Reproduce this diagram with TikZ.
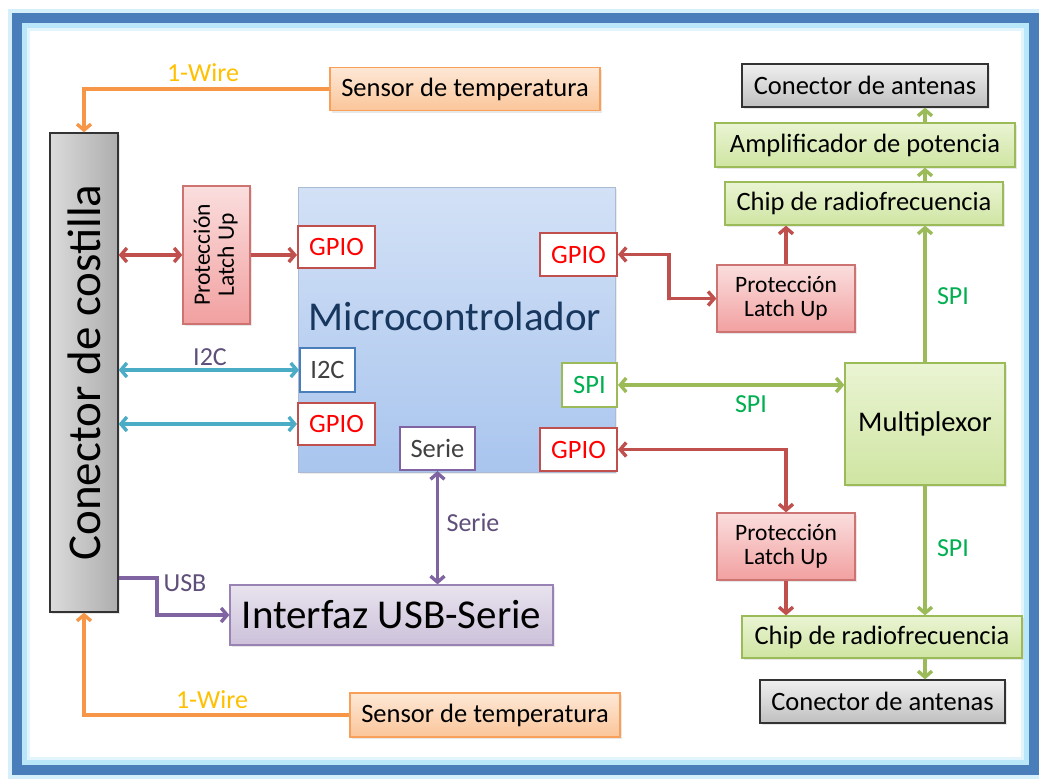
\documentclass[tikz,border=0pt]{standalone}
\usepackage{fontspec}
\setmainfont{Carlito}
\usetikzlibrary{arrows.meta,shadows}

\definecolor{marco}{HTML}{4A7EBB}
\definecolor{marcoclaro}{HTML}{B9E6F8}
\definecolor{naranja}{HTML}{F79646}
\definecolor{amarillo}{HTML}{FFC000}
\definecolor{rojo}{HTML}{C0504D}
\definecolor{rosa}{HTML}{F2A0A0}
\definecolor{rojotexto}{HTML}{FF0000}
\definecolor{turquesa}{HTML}{4BACC6}
\definecolor{morado}{HTML}{8064A2}
\definecolor{moradotexto}{HTML}{5F4F7A}
\definecolor{verde}{HTML}{9BBB59}
\definecolor{verdeclaro}{HTML}{EAF4D3}
\definecolor{verdemedio}{HTML}{CFE5A2}
\definecolor{verdetexto}{HTML}{00B050}
\definecolor{azulclaro}{HTML}{D3E1F6}
\definecolor{azulmicro}{HTML}{A9C5EE}
\definecolor{textomicro}{HTML}{17375E}

\tikzset{
  caja/.style={draw, line width=1.3pt, inner sep=0pt, align=center,
    drop shadow={opacity=0.18, shadow xshift=1.5pt, shadow yshift=-2pt}},
  gris/.style={caja, draw=black!80, top color=black!6, bottom color=black!25},
  sensor/.style={caja, draw=naranja!90, top color=naranja!22, bottom color=naranja!55,
    minimum width=270, minimum height=43, font=\fontsize{26.5}{28}\selectfont},
  proteccion/.style={caja, draw=rojo!80, top color=rosa!35, bottom color=rosa,
    font=\fontsize{23.5}{27}\selectfont},
  radio/.style={caja, draw=verde, top color=verdeclaro, bottom color=verdemedio,
    font=\fontsize{26.5}{28}\selectfont},
  antena/.style={gris, minimum width=246, minimum height=43, font=\fontsize{26.5}{28}\selectfont},
  pin/.style={draw, line width=2pt, fill=white, inner sep=0pt, minimum height=42,
    font=\fontsize{26.5}{28}\selectfont},
  gpio/.style={pin, draw=rojo, text=rojotexto, minimum width=77},
  etiqueta/.style={font=\fontsize{26}{28}\selectfont},
  linea/.style={line width=3.4pt},
  >={Straight Barb[length=6pt,width=14pt]}
}

\begin{document}
\begin{tikzpicture}[x=1pt,y=-1pt]
  %%%%% START %%%%%
  \useasboundingbox (0,0) rectangle (1039,779);
  \fill[white] (0,0) rectangle (1039,779);

  % marco
  \draw[line width=6pt, marcoclaro!60] (11,12) rectangle (1039,776);
  \draw[line width=10pt, marco] (17,18) rectangle (1034,770);
  \draw[line width=5pt, marcoclaro] (24.5,25.5) rectangle (1026.5,762.5);
  \draw[line width=3pt, marcoclaro!40] (28.5,29.5) rectangle (1022.5,758.5);

  % bloques de la izquierda
  \node[caja, draw=black!80, left color=black!14, right color=black!32,
    minimum width=68, minimum height=479] (costilla) at (84,372.5)
    {\rotatebox{90}{\fontsize{47}{50}\selectfont Conector de costilla}};
  \node[sensor] (sensorsup) at (465,89) {Sensor de temperatura};
  \node[sensor, minimum height=44] (sensorinf) at (485,715) {Sensor de temperatura};
  \node[proteccion, minimum width=67, minimum height=138] (protizq) at (216.5,255)
    {\rotatebox{90}{\begin{tabular}{@{}c@{}}Protección\\[-3pt]Latch Up\end{tabular}}};

  % microcontrolador
  \node[draw=azulmicro!80!black!70, line width=0.8pt, top color=azulclaro, bottom color=azulmicro,
    minimum width=317, minimum height=285, inner sep=0pt,
    drop shadow={opacity=0.15, shadow xshift=1.5pt, shadow yshift=-2pt}] (micro) at (456.5,329.5) {};
  \node[text=textomicro, font=\fontsize{41}{44}\selectfont] (microtxt) at (455,316) {Microcontrolador};
  \node[gpio] (gpioa) at (336.5,247) {GPIO};
  \node[pin, draw=marco, text=black!75, minimum width=55, minimum height=44] (i2c) at (327.5,370) {I2C};
  \node[gpio] (gpiob) at (336.5,424) {GPIO};
  \node[pin, draw=morado, text=black!75, minimum width=75, minimum height=43] (serie) at (437.5,448.5) {Serie};
  \node[gpio, minimum height=43] (gpioc) at (578.5,254.5) {GPIO};
  \node[pin, draw=verde, text=verdetexto, minimum width=55, minimum height=44] (spi) at (589.5,385) {SPI};
  \node[gpio, minimum height=43] (gpiod) at (578.5,449.5) {GPIO};

  \node[caja, draw=morado!80, top color=morado!18, bottom color=morado!40,
    minimum width=323, minimum height=60, font=\fontsize{41}{44}\selectfont] (interfaz) at (391.5,615)
    {Interfaz USB-Serie};

  % bloques de radio
  \node[antena] (antsup) at (865,85.5) {Conector de antenas};
  \node[radio, minimum width=300, minimum height=44] (amplif) at (865,145) {Amplificador de potencia};
  \node[radio, minimum width=278, minimum height=43] (chipsup) at (864,203.5) {Chip de radiofrecuencia};
  \node[proteccion, minimum width=138, minimum height=67] (protsup) at (786,298.5)
    {Protección\\[-3pt]Latch Up};
  \node[radio, minimum width=160, minimum height=122, font=\fontsize{28.5}{30}\selectfont] (mux) at (925,424)
    {Multiplexor};
  \node[proteccion, minimum width=138, minimum height=67] (protinf) at (786,546.5)
    {Protección\\[-3pt]Latch Up};
  \node[radio, minimum width=280, minimum height=42] (chipinf) at (882,637) {Chip de radiofrecuencia};
  \node[antena, minimum width=245] (antinf) at (882.5,701.5) {Conector de antenas};

  % conexiones 1-Wire
  \draw[linea, naranja, ->] (sensorsup.west) -| (costilla.north);
  \draw[linea, naranja, ->] (sensorinf.west) -| (costilla.south);
  \node[etiqueta, text=amarillo] (wiresup) at (203,73) {1-Wire};
  \node[etiqueta, text=amarillo] (wireinf) at (212,700) {1-Wire};

  % conexiones GPIO / I2C
  \draw[linea, rojo, <->] (costilla.east |- protizq.west) -- (protizq.west);
  \draw[linea, rojo, ->] (protizq.east) -- (protizq.east -| gpioa.west);
  \draw[linea, turquesa, <->] (costilla.east |- i2c.west) -- (i2c.west);
  \node[etiqueta, text=moradotexto] (i2clab) at (210,357) {I2C};
  \draw[linea, turquesa, <->] (costilla.east |- gpiob.west) -- (gpiob.west);

  % USB y serie
  \coordinate (usbcodo) at (157,578);
  \draw[linea, morado, ->] (usbcodo -| costilla.east) -- (usbcodo) |- (interfaz.west);
  \node[etiqueta, text=moradotexto] (usblab) at (185,583) {USB};
  \draw[linea, morado, <->] (serie.south) -- (serie.south |- interfaz.north);
  \node[etiqueta, text=moradotexto] (serielab) at (473,523) {Serie};

  % lado de radio
  \coordinate (gpiocodo) at (669,300);
  \draw[linea, rojo, <->] (gpioc.east) -| (gpiocodo) |- (protsup.west);
  \draw[linea, rojo, ->] (protsup.north) -- (protsup.north |- chipsup.south);
  \draw[linea, rojo, <->] (gpiod.east) -| (protinf.north);
  \draw[linea, rojo, ->] (protinf.south) -- (protinf.south |- chipinf.north);

  \draw[linea, verde, <->] (spi.east) -- (spi.east -| mux.west);
  \node[etiqueta, text=verdetexto] (spilab) at (751,404) {SPI};
  \draw[linea, verde, ->] (mux.north) -- (mux.north |- chipsup.south);
  \node[etiqueta, text=verdetexto] (spisup) at (953,296) {SPI};
  \draw[linea, verde, ->] (mux.south) -- (mux.south |- chipinf.north);
  \node[etiqueta, text=verdetexto] (spiinf) at (953,548) {SPI};
  \draw[linea, verde, ->] (mux.north |- chipsup.north) -- (mux.north |- amplif.south);
  \draw[linea, verde, ->] (mux.north |- amplif.north) -- (mux.north |- antsup.south);
  \draw[linea, verde, ->] (mux.south |- chipinf.south) -- (mux.south |- antinf.north);
  %%%%% END %%%%%
\end{tikzpicture}
\end{document}
